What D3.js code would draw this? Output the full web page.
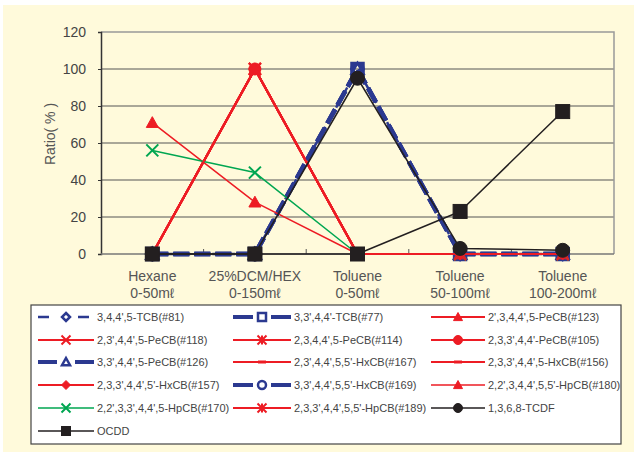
<!DOCTYPE html>
<html><head><meta charset="utf-8">
<script src="https://cdn.jsdelivr.net/npm/d3@7"></script>
<style>body{margin:0;background:#fff}svg{display:block}text{font-family:"Liberation Sans",Arial,sans-serif}</style>
</head><body><svg id="c" width="637" height="454"></svg>
<script>
const categories = [["Hexane","0-50mℓ"],["25%DCM/HEX","0-150mℓ"],["Toluene","0-50mℓ"],["Toluene","50-100mℓ"],["Toluene","100-200mℓ"]];
const yTicks = [0,20,40,60,80,100,120];
const seriesNames = ["3,4,4',5-TCB(#81)","3,3',4,4'-TCB(#77)","2',3,4,4',5-PeCB(#123)","2,3',4,4',5-PeCB(#118)","2,3,4,4',5-PeCB(#114)","2,3,3',4,4'-PeCB(#105)","3,3',4,4',5-PeCB(#126)","2,3',4,4',5,5'-HxCB(#167)","2,3,3',4,4',5-HxCB(#156)","2,3,3',4,4',5'-HxCB(#157)","3,3',4,4',5,5'-HxCB(#169)","2,2',3,4,4',5,5'-HpCB(#180)","2,2',3,3',4,4',5-HpCB(#170)","2,3,3',4,4',5,5'-HpCB(#189)","1,3,6,8-TCDF","OCDD"];
const v81 = [0,0,100,0,0];
const v77 = [0,0,100,0,0];
const v123 = [0,100,0,0,0];
const v118 = [0,100,0,0,0];
const v114 = [0,100,0,0,0];
const v105 = [0,100,0,0,0];
const v126 = [0,0,100,0,0];
const v167 = [0,100,0,0,0];
const v156 = [0,100,0,0,0];
const v157 = [0,100,0,0,0];
const v169 = [0,0,100,0,0];
const v180 = [71,28,0,0,0];
const v170 = [56,44,0,0,0];
const v189 = [0,100,0,0,0];
const vTCDF = [0,0,95,3,2];
const vOCDD = [0,0,0,23,77];
const seriesValues = [v81,v77,v123,v118,v114,v105,v126,v167,v156,v157,v169,v180,v170,v189,vTCDF,vOCDD];

const BLUE="#2b3990", RED="#ed1c24", GREEN="#00a651", BLACK="#231f20";
const styles = [
 {c:BLUE,w:2.5,dash:"8,7",m:"diamond",fill:"none"},
 {c:BLUE,w:4.5,dash:"16,5",m:"square",fill:"none"},
 {c:RED,w:2,m:"triangle",fill:RED},
 {c:RED,w:2,m:"x",fill:RED},
 {c:RED,w:2,m:"star",fill:RED},
 {c:RED,w:2,m:"circle",fill:RED},
 {c:BLUE,w:4.5,dash:"16,5",m:"triangle",fill:"none"},
 {c:RED,w:2,m:"dash",fill:RED},
 {c:RED,w:2,m:"dash",fill:RED},
 {c:RED,w:2,m:"diamond",fill:RED},
 {c:BLUE,w:4.5,dash:"16,5",m:"circle",fill:"none"},
 {c:RED,w:1.5,m:"triangle",fill:RED},
 {c:GREEN,w:1.5,m:"x",fill:GREEN},
 {c:RED,w:2,m:"star",fill:RED},
 {c:BLACK,w:1.5,m:"circle",fill:BLACK},
 {c:BLACK,w:1.5,m:"square",fill:BLACK}
];

const svg = d3.select("#c");
svg.append("rect").attr("x",3).attr("y",5).attr("width",631).attr("height",447).attr("fill","#fffadb");

const L=101,R=614,T=32,B=254;
const x = d3.scaleBand().domain(categories.map((d,i)=>i)).range([L,R]);
const y = d3.scaleLinear().domain([0,120]).range([B,T]);
const cx = i => x(i)+x.bandwidth()/2;

// gridlines
svg.append("g").selectAll("line").data(yTicks.filter(t=>t>0&&t<120)).join("line")
 .attr("x1",L).attr("x2",R).attr("y1",d=>y(d)).attr("y2",d=>y(d)).attr("stroke","#555").attr("stroke-width",1);
// frame
svg.append("path").attr("d",`M${L},${y(120)}H${R}V${B}`).attr("fill","none").attr("stroke","#999").attr("stroke-width",1.5);

// y axis
const ya = svg.append("g").attr("transform",`translate(${L},0)`).call(d3.axisLeft(y).tickValues(yTicks).tickSize(3).tickPadding(12));
ya.select(".domain").attr("stroke","#333").attr("stroke-width",1.5);
ya.selectAll("line").attr("stroke","#333");
ya.selectAll("text").attr("font-size",14).attr("fill","#444").attr("font-family","Liberation Sans, Arial, sans-serif");

// x axis
const xa = svg.append("g").attr("transform",`translate(0,${B})`);
xa.append("line").attr("x1",L).attr("x2",R).attr("stroke","#777").attr("stroke-width",1.5);
xa.selectAll("line.tk").data(d3.range(1,categories.length)).join("line").attr("class","tk")
 .attr("x1",i=>x(i)).attr("x2",i=>x(i)).attr("y1",-5).attr("y2",0).attr("stroke","#555");
const lab = xa.selectAll("text").data(categories).join("text").attr("text-anchor","middle").attr("font-size",14).attr("fill","#555");
lab.append("tspan").attr("x",(d,i)=>cx(i)).attr("y",27).text(d=>d[0]);
lab.append("tspan").attr("x",(d,i)=>cx(i)).attr("y",44).text(d=>d[1]);

svg.append("text").attr("transform","translate(55,134) rotate(-90)").attr("text-anchor","middle")
 .attr("font-size",14).attr("fill","#555").text("Ratio( % )");

function marker(g, type, s, size){
  const r=size/2;
  let el;
  if(type==="square") el=g.append("rect").attr("x",-r).attr("y",-r).attr("width",size).attr("height",size);
  else if(type==="circle") el=g.append("circle").attr("r",r);
  else if(type==="triangle") el=g.append("path").attr("d",`M0,${-r}L${r},${r*0.8}L${-r},${r*0.8}Z`);
  else if(type==="diamond") el=g.append("path").attr("d",`M0,${-r}L${r},0L0,${r}L${-r},0Z`);
  else if(type==="x") el=g.append("path").attr("d",`M${-r},${-r}L${r},${r}M${-r},${r}L${r},${-r}`);
  else if(type==="star") el=g.append("path").attr("d",`M${-r},${-r}L${r},${r}M${-r},${r}L${r},${-r}M0,${-r}V${r}M${-r},0H${r}`);
  else if(type==="dash") el=g.append("path").attr("d",`M${-r},0H${r}`);
  if(type==="x"||type==="star"||type==="dash") el.attr("fill","none").attr("stroke",s.c).attr("stroke-width",type==="dash"?3:2);
  else if(s.fill==="none") el.attr("fill","none").attr("stroke",s.c).attr("stroke-width",2.5);
  else el.attr("fill",s.fill).attr("stroke",s.c).attr("stroke-width",1);
}

const line = d3.line().x((d,i)=>cx(i)).y(d=>y(d));
const plot = svg.append("g");
seriesValues.forEach((vals,k)=>{
  const s=styles[k];
  const g=plot.append("g");
  g.append("path").attr("d",line(vals)).attr("fill","none").attr("stroke",s.c).attr("stroke-width",s.w)
   .attr("stroke-dasharray",s.dash||null).attr("stroke-linejoin","round");
  const big = (s.c===BLACK)?14:(s.c===BLUE?12:12);
  vals.forEach((v,i)=>{
    const mg=g.append("g").attr("transform",`translate(${cx(i)},${y(v)})`);
    marker(mg,s.m,s,big);
  });
});

// legend
svg.append("rect").attr("x",31).attr("y",305).attr("width",590).attr("height",139).attr("fill","#fff").attr("stroke","#444").attr("stroke-width",1.2);
const colX=[[38,94,97],[233,291,294],[431,485,488]];
const rowY=[317,340,362,385,408,431];
seriesNames.forEach((n,k)=>{
  const s=styles[k], col=k%3, row=Math.floor(k/3);
  const [x1,x2,tx]=colX[col], yy=rowY[row];
  const g=svg.append("g");
  g.append("line").attr("x1",x1).attr("x2",x2).attr("y1",yy).attr("y2",yy).attr("stroke",s.c)
   .attr("stroke-width",s.w===4.5?4:s.w).attr("stroke-dasharray",s.dash?(s.w>3?null:"11,9"):null);
  if(s.c===BLUE){
    const mx=(x1+x2)/2;
    g.append("rect").attr("x",mx-9).attr("y",yy-5).attr("width",18).attr("height",10).attr("fill","#fff");
  }
  const mg=g.append("g").attr("transform",`translate(${(x1+x2)/2},${yy})`);
  marker(mg,s.m,s,s.c===BLUE?8:(s.m==="dash"?8:9));
  g.append("text").attr("x",tx).attr("y",yy+4).attr("font-size",11).attr("fill","#444").text(n);
});
</script></body></html>
